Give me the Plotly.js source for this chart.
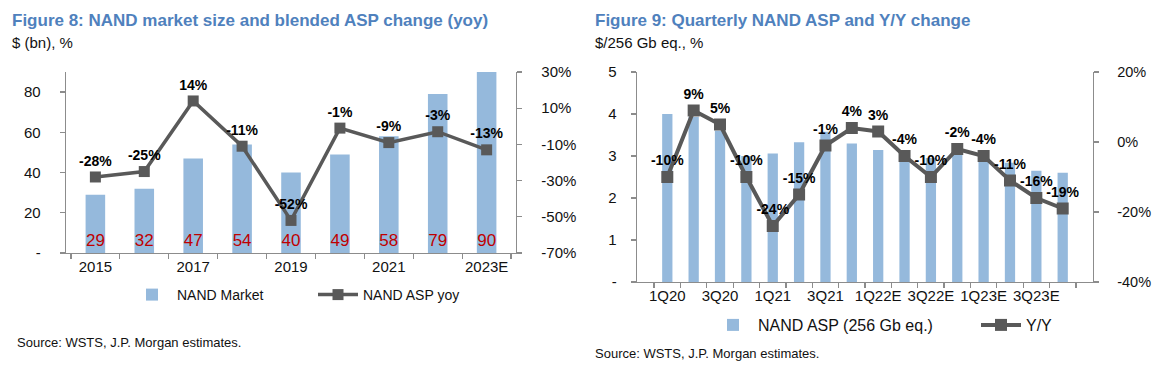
<!DOCTYPE html>
<html>
<head>
<meta charset="utf-8">
<script src="https://cdn.plot.ly/plotly-3.0.1.min.js"></script>
<style>html,body{margin:0;padding:0;background:#fff;}#chart{width:1155px;height:381px;}</style>
</head>
<body>
<div id="chart"></div>
<script>
// ---- Figure 8 data ----
const years = ['2015','2016','2017','2018','2019','2020','2021','2022','2023E'];
const nandMarket = [29, 32, 47, 54, 40, 49, 58, 79, 90];
const aspYoy = [-28, -25, 14, -11, -52, -1, -9, -3, -13];
const leftTickVals = [0, 20, 40, 60, 80];
const leftTickText = ['-', '20', '40', '60', '80'];
const pctTickVals = [-70, -50, -30, -10, 10, 30];

// ---- Figure 9 data ----
const quarters = ['1Q20','2Q20','3Q20','4Q20','1Q21','2Q21','3Q21','4Q21',
                  '1Q22E','2Q22E','3Q22E','4Q22E','1Q23E','2Q23E','3Q23E','4Q23E'];
const nandAsp = [4.0, 3.93, 3.6, 3.0, 3.06, 3.33, 3.58, 3.3, 3.14, 3.0, 2.95, 3.05, 2.95, 2.84, 2.65, 2.6];
const aspYy = [-10, 9, 5, -10, -24, -15, -1, 4, 3, -4, -10, -2, -4, -11, -16, -19];
const rightTickVals = [0, 1, 2, 3, 4, 5];
const rightTickText = ['-', '1', '2', '3', '4', '5'];
const yyTickVals = [-40, -20, 0, 20];

const FONT = '"Liberation Sans Narrow", "Arial Narrow", "Liberation Sans", Arial, sans-serif';
const BLUE = '#95b9dc';
const GREY = '#595959';
const AXIS = '#8c8c8c';
const TITLE = '#4f81bd';

const everyOther = arr => arr.map((c, i) => (i % 2 === 0 ? c : ''));
const pct = v => v + '%';

const traces = [
  {
    type: 'bar', x: years, y: nandMarket, name: 'NAND Market',
    xaxis: 'x', yaxis: 'y', legend: 'legend',
    marker: {color: BLUE}, width: 0.4,
    text: nandMarket.map(String), textposition: 'inside', insidetextanchor: 'start',
    constraintext: 'none', textangle: 0,
    textfont: {color: '#c00000', size: 17, family: FONT},
    hoverinfo: 'skip'
  },
  {
    type: 'scatter', mode: 'lines+markers+text', x: years, y: aspYoy, name: 'NAND ASP yoy',
    xaxis: 'x', yaxis: 'y2', legend: 'legend',
    line: {color: GREY, width: 3.5}, marker: {symbol: 'square', size: 11, color: GREY},
    text: aspYoy.map(pct), textposition: 'top center',
    textfont: {color: '#000', size: 14, family: FONT, weight: 'bold'},
    cliponaxis: false, hoverinfo: 'skip'
  },
  {
    type: 'bar', x: quarters, y: nandAsp, name: 'NAND ASP (256 Gb eq.)',
    xaxis: 'x2', yaxis: 'y3', legend: 'legend2',
    marker: {color: BLUE}, width: 0.39, hoverinfo: 'skip'
  },
  {
    type: 'scatter', mode: 'lines+markers+text', x: quarters, y: aspYy, name: 'Y/Y',
    xaxis: 'x2', yaxis: 'y4', legend: 'legend2',
    line: {color: GREY, width: 4}, marker: {symbol: 'square', size: 12, color: GREY},
    text: aspYy.map(pct), textposition: 'top center',
    textfont: {color: '#000', size: 14, family: FONT, weight: 'bold'},
    cliponaxis: false, hoverinfo: 'skip'
  }
];

const tickFont = {family: FONT, size: 15, color: '#111'};
const baseAxis = {showgrid: false, zeroline: false, showline: true, linecolor: AXIS, linewidth: 1.3,
  ticks: 'outside', ticklen: 5, tickcolor: AXIS, tickwidth: 1.3, tickfont: tickFont, fixedrange: true,
  automargin: false};

const layout = {
  width: 1155, height: 381,
  margin: {l: 0, r: 0, t: 0, b: 0, autoexpand: false},
  paper_bgcolor: '#fff', plot_bgcolor: 'rgba(0,0,0,0)',
  font: {family: FONT, color: '#111'},
  showlegend: true,
  bargap: 0.6,
  xaxis: Object.assign({}, baseAxis, {
    domain: [66/1155, 516/1155], anchor: 'y', type: 'category', tickangle: 0,
    tickson: 'boundaries', tickvals: years, ticktext: everyOther(years)
  }),
  yaxis: Object.assign({}, baseAxis, {
    domain: [1 - 253/381, 1 - 72/381], anchor: 'x', range: [0, 90],
    tickvals: leftTickVals, ticktext: leftTickText, ticklabelstandoff: 16
  }),
  yaxis2: Object.assign({}, baseAxis, {
    overlaying: 'y', side: 'right', anchor: 'x', range: [-70, 30],
    tickvals: pctTickVals, ticktext: pctTickVals.map(pct), ticklabelstandoff: 16
  }),
  xaxis2: Object.assign({}, baseAxis, {
    domain: [637/1155, 1093/1155], anchor: 'y3', type: 'category', tickangle: 0,
    tickson: 'boundaries', tickvals: quarters, ticktext: everyOther(quarters)
  }),
  yaxis3: Object.assign({}, baseAxis, {
    domain: [1 - 282/381, 1 - 72/381], anchor: 'x2', range: [0, 5],
    tickvals: rightTickVals, ticktext: rightTickText, ticklabelstandoff: 11
  }),
  yaxis4: Object.assign({}, baseAxis, {
    overlaying: 'y3', side: 'right', anchor: 'x2', range: [-40, 20],
    tickvals: yyTickVals, ticktext: yyTickVals.map(pct), ticklabelstandoff: 15,
    tickfont: {family: FONT, size: 14.5, color: '#111'}
  }),
  legend: {orientation: 'h', x: 127/1155, y: 1 - 295/381, xanchor: 'left', yanchor: 'middle',
    font: {family: FONT, size: 14, color: '#111'}, itemwidth: 40, entrywidth: 131,
    bgcolor: 'rgba(0,0,0,0)'},
  legend2: {orientation: 'h', x: 708/1155, y: 1 - 325/381, xanchor: 'left', yanchor: 'middle',
    font: {family: FONT, size: 16, color: '#111'}, itemwidth: 40, entrywidth: 213,
    bgcolor: 'rgba(0,0,0,0)'},
  annotations: [
    {xref: 'paper', yref: 'paper', x: 10/1155, y: 1 - 20/381, xanchor: 'left', yanchor: 'middle', showarrow: false,
     text: '<b>Figure 8: NAND market size and blended ASP change (yoy)</b>', font: {family: FONT, size: 17, color: TITLE}},
    {xref: 'paper', yref: 'paper', x: 10/1155, y: 1 - 43/381, xanchor: 'left', yanchor: 'middle', showarrow: false,
     text: '$ (bn), %', font: {family: FONT, size: 15, color: '#111'}},
    {xref: 'paper', yref: 'paper', x: 15/1155, y: 1 - 342/381, xanchor: 'left', yanchor: 'middle', showarrow: false,
     text: 'Source: WSTS, J.P. Morgan estimates.', font: {family: FONT, size: 13, color: '#111'}},
    {xref: 'paper', yref: 'paper', x: 593/1155, y: 1 - 20/381, xanchor: 'left', yanchor: 'middle', showarrow: false,
     text: '<b>Figure 9: Quarterly NAND ASP and Y/Y change</b>', font: {family: FONT, size: 17, color: TITLE}},
    {xref: 'paper', yref: 'paper', x: 593/1155, y: 1 - 43/381, xanchor: 'left', yanchor: 'middle', showarrow: false,
     text: '$/256 Gb eq., %', font: {family: FONT, size: 15, color: '#111'}},
    {xref: 'paper', yref: 'paper', x: 593/1155, y: 1 - 353/381, xanchor: 'left', yanchor: 'middle', showarrow: false,
     text: 'Source: WSTS, J.P. Morgan estimates.', font: {family: FONT, size: 13, color: '#111'}}
  ]
};

Plotly.newPlot('chart', traces, layout, {displayModeBar: false, staticPlot: true});
</script>
</body>
</html>
